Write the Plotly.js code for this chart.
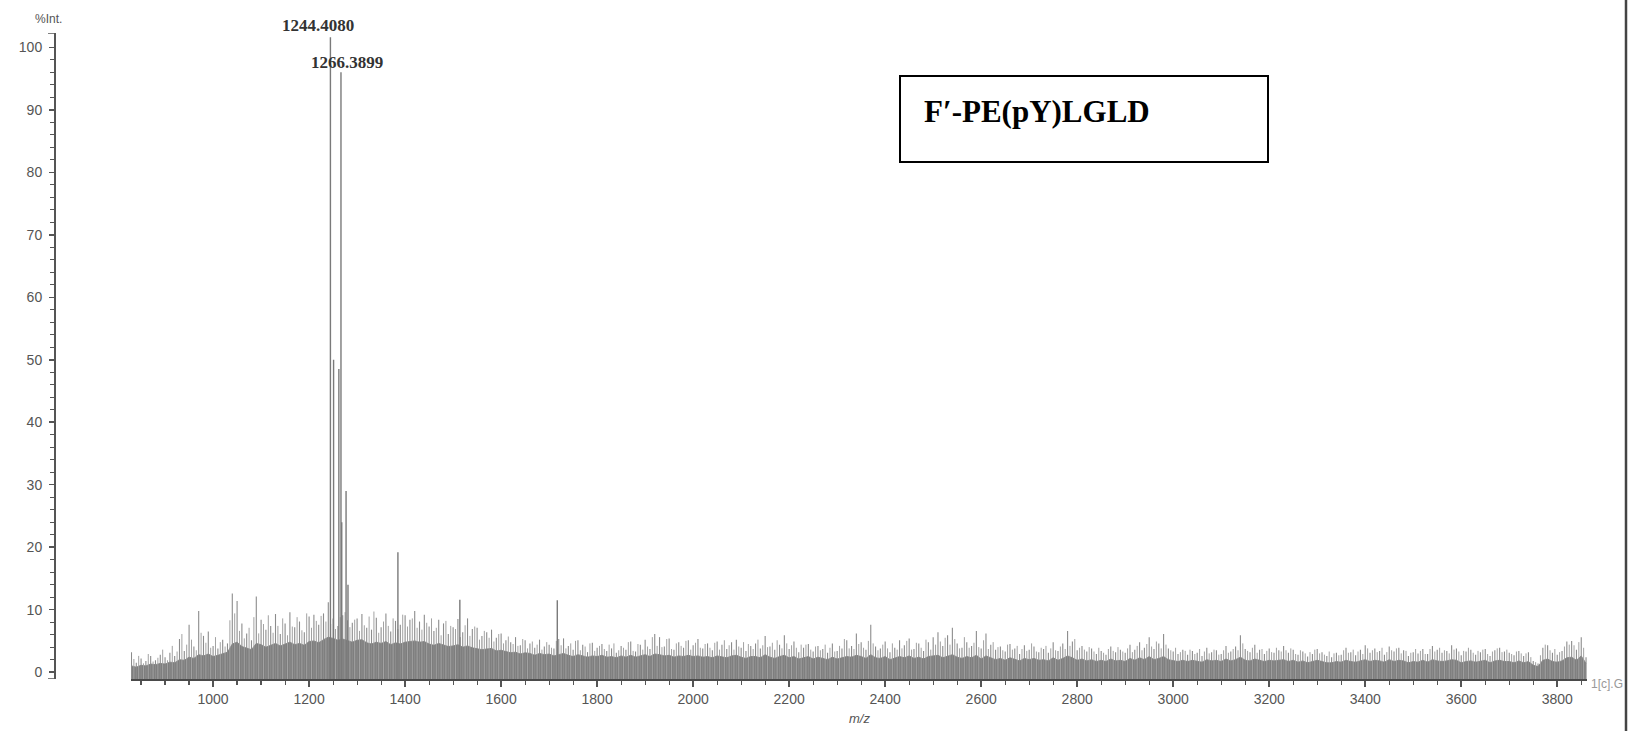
<!DOCTYPE html>
<html>
<head>
<meta charset="utf-8">
<script src="https://cdn.plot.ly/plotly-3.0.1.min.js"></script>
<style>html,body{margin:0;padding:0;background:#fff;}#chart{width:1629px;height:731px;}</style>
</head>
<body>
<div id="chart"></div>
<script>
// ---- data ----
const noiseStart = 830, noiseStep = 10;
const noiseHi = [
 3.2,1.5,2.2,1.8,2.6,1.9,2.8,2.4,3.1,2.6,
 5.3,3.4,7.6,4.1,9.8,5.8,6.5,4.2,3.8,5.2,
 4.6,12.6,11.4,7.8,6.2,5.1,12.1,8.4,6.8,7.4,
 9.3,6.1,7.8,9.6,7.2,8.1,6.4,8.9,9.2,7.6,
 9.4,11.2,8.6,7.4,9.1,8.3,7.9,8.6,9.3,7.1,
 6.8,8.7,7.2,9.4,6.5,8.2,7.6,9.1,8.4,9.8,
 8.1,9.2,7.3,6.6,8.4,7.8,6.1,7.2,8.5,6.4,
 8.6,6.9,7.1,5.8,6.4,6.8,5.5,6.2,5.1,4.8,
 5.6,4.3,5.1,4.6,3.9,5.2,4.1,4.4,3.8,5.3,
 5.4,4.2,3.6,5.1,4.4,3.2,4.7,3.9,4.5,3.4,
 3.8,3.1,4.2,3.6,4.9,3.3,4.4,5.2,3.7,6.1,
 5.6,4.1,5.4,3.6,4.8,3.9,5.1,4.3,5.3,3.8,
 4.6,3.5,4.9,4.4,3.7,4.8,5.2,3.9,3.4,4.2,
 4.6,3.8,5.8,4.1,3.6,4.4,5.9,3.7,4.9,3.2,
 3.9,4.5,3.3,4.2,3.7,3.1,4.6,3.4,3.8,5.1,
 4.2,6.2,4.8,3.6,7.6,4.1,3.8,4.9,3.2,3.9,
 5.1,4.3,5.4,3.7,4.6,3.4,4.8,5.6,6.4,4.2,
 5.9,7.1,4.6,3.9,4.8,4.2,6.6,3.8,6.2,4.4,
 3.6,4.1,3.3,4.5,3.8,2.9,4.3,3.6,4.1,3.2,
 3.7,3.1,4.8,3.4,4.6,6.6,4.9,3.5,4.2,3.3,
 3.8,2.9,3.4,2.8,4.1,3.2,3.6,3.1,4.4,3.6,
 4.8,3.9,5.6,3.7,4.6,6.1,3.8,3.3,2.9,3.6,
 2.8,3.4,3.1,2.6,3.9,3.2,3.5,2.9,4.2,3.3,
 4.1,5.9,3.7,3.2,4.4,3.6,2.9,3.8,3.1,3.5,
 4.2,3.1,3.6,2.8,3.3,2.5,2.9,3.7,3.2,2.6,
 2.4,3.1,2.8,3.9,3.2,2.7,3.6,4.3,3.1,3.8,
 3.4,2.8,4.1,3.3,3.9,3.5,2.6,3.2,3.0,3.7,
 2.9,4.2,3.6,3.1,3.4,4.3,3.8,2.7,3.3,3.6,
 2.8,3.2,3.7,2.6,3.5,3.9,3.3,3.1,2.7,3.4,
 2.6,3.2,1.8,1.4,3.9,4.3,3.1,2.8,3.4,4.9,
 5.0,3.6,5.6,2.4
];
// sticks lying half-way between the ones above (835, 845, ...)
const noiseMid = [
 2.1,2.6,1.4,2.9,1.7,2.3,3.6,1.9,4.2,3.3,
 6.1,4.4,5.2,3.5,6.3,4.7,3.9,5.6,4.8,4.1,
 8.3,9.4,6.6,5.4,7.1,8.8,6.2,7.7,9.1,6.3,
 7.4,8.6,5.9,7.3,8.8,6.7,9.4,7.1,8.2,9.0,
 8.1,7.7,6.9,8.8,9.6,7.2,8.4,6.6,7.5,8.9,
 9.7,6.3,8.1,7.4,8.6,6.9,9.2,7.3,8.6,7.1,
 6.8,7.9,8.6,7.1,5.9,8.2,7.4,6.9,5.6,7.5,
 5.8,7.3,5.2,6.6,5.5,4.9,6.1,4.6,5.7,4.5,
 4.2,5.3,3.8,4.9,4.4,3.6,4.8,3.9,5.0,4.3,
 3.8,4.6,5.0,3.5,4.1,4.6,3.4,4.2,3.7,4.4,
 4.6,3.5,3.9,4.8,3.4,4.5,3.6,4.1,5.6,4.2,
 4.0,5.3,3.7,4.6,4.2,5.0,3.6,4.7,3.9,4.5,
 3.9,4.7,3.6,5.1,4.3,3.6,4.1,4.8,4.5,3.7,
 5.2,4.3,4.0,4.7,5.1,3.8,4.6,4.3,3.9,4.4,
 4.4,3.6,4.1,3.5,4.4,3.9,3.3,4.2,5.3,3.8,
 3.7,4.5,3.9,5.0,4.6,3.5,4.4,3.8,4.6,3.6,
 3.8,5.0,3.6,4.7,3.9,5.2,3.6,4.4,4.9,5.5,
 4.4,5.3,3.8,5.6,3.9,4.7,4.0,5.1,3.7,4.8,
 4.0,3.5,4.4,3.6,4.2,3.7,3.4,4.6,3.3,3.9,
 4.2,3.8,3.5,4.1,3.7,4.2,5.3,3.9,3.6,4.0,
 3.3,3.9,3.1,3.7,3.4,4.0,3.3,3.8,3.2,4.2,
 3.5,4.5,4.1,4.9,3.8,4.4,3.5,3.9,3.2,3.4,
 3.6,2.9,3.7,3.3,3.0,3.6,2.8,3.5,3.1,3.7,
 3.5,4.6,3.4,3.9,3.1,3.7,3.4,3.2,3.9,3.3,
 3.5,3.8,2.9,3.5,3.0,3.2,3.6,3.0,2.8,3.3,
 3.0,2.7,3.5,3.1,3.6,3.3,2.9,3.8,3.5,3.2,
 3.9,3.2,3.5,3.8,3.0,3.4,3.1,3.7,3.4,2.9,
 3.7,3.3,3.9,3.5,3.0,3.6,3.3,3.4,3.9,3.1,
 3.4,3.6,2.9,3.3,3.8,3.2,3.6,2.9,3.3,3.0,
 3.0,2.4,1.6,2.7,4.4,3.5,3.7,3.2,4.1,4.4,
 4.3,4.8,3.9
];
// level of the dense grey mass under the sticks
const noiseLo = [
 1.0,0.8,1.1,1.0,1.3,1.2,1.4,1.3,1.6,1.5,
 2.0,1.9,2.4,2.2,2.8,2.6,2.9,2.5,2.7,3.0,
 3.2,4.5,4.8,4.1,3.8,3.6,4.6,4.4,4.0,4.3,
 4.6,4.2,4.5,4.8,4.4,4.6,4.3,4.9,5.0,4.7,
 5.2,5.6,5.4,5.1,5.3,5.0,4.8,5.1,5.2,4.7,
 4.5,4.8,4.6,4.9,4.4,4.7,4.5,4.8,4.9,5.0,
 4.8,4.9,4.5,4.3,4.6,4.4,4.1,4.2,4.4,4.0,
 4.2,3.9,3.8,3.6,3.7,3.8,3.4,3.5,3.3,3.1,
 3.2,2.9,3.1,3.0,2.7,3.0,2.8,2.9,2.6,2.8,
 3.0,2.7,2.5,2.8,2.6,2.4,2.6,2.5,2.7,2.4,
 2.5,2.3,2.6,2.4,2.7,2.4,2.6,2.8,2.5,2.9,
 2.8,2.6,2.7,2.4,2.6,2.5,2.7,2.5,2.6,2.4,
 2.5,2.3,2.6,2.5,2.3,2.6,2.7,2.4,2.2,2.5,
 2.5,2.3,2.8,2.4,2.2,2.5,2.7,2.3,2.5,2.1,
 2.3,2.5,2.1,2.4,2.2,2.0,2.4,2.1,2.3,2.5,
 2.4,2.7,2.5,2.2,2.8,2.3,2.2,2.5,2.0,2.3,
 2.5,2.3,2.6,2.2,2.4,2.1,2.5,2.6,2.7,2.3,
 2.6,2.8,2.4,2.2,2.5,2.3,2.7,2.1,2.6,2.3,
 2.0,2.2,1.9,2.3,2.1,1.8,2.2,2.0,2.2,1.9,
 2.0,1.8,2.3,1.9,2.2,2.6,2.3,1.9,2.1,1.8,
 2.0,1.7,1.9,1.7,2.1,1.8,1.9,1.7,2.2,1.9,
 2.3,2.0,2.5,2.0,2.2,2.5,2.0,1.8,1.7,1.9,
 1.7,1.9,1.8,1.6,2.0,1.8,1.9,1.7,2.1,1.8,
 2.0,2.4,1.9,1.8,2.1,1.9,1.7,1.9,1.8,1.9,
 2.0,1.7,1.9,1.6,1.8,1.5,1.7,1.9,1.7,1.5,
 1.5,1.7,1.6,1.9,1.7,1.6,1.8,2.0,1.7,1.9,
 1.8,1.6,2.0,1.7,1.9,1.8,1.5,1.7,1.6,1.9,
 1.6,2.0,1.8,1.7,1.8,2.0,1.9,1.5,1.7,1.8,
 1.6,1.7,1.9,1.5,1.8,1.9,1.7,1.7,1.5,1.8,
 1.5,1.7,1.1,0.9,1.9,2.1,1.7,1.6,1.8,2.3,
 2.4,1.9,2.6,1.4
];
const peakMz  = [1244.4080, 1251, 1266.3899, 1262, 1268, 1277, 1281, 1385, 1514, 1717];
const peakInt = [101.6,     50,   96.0,      48.5, 24,   29,   14,   19.2, 11.6, 11.5];
const labelledPeaks = ["1244.4080", "1266.3899"];
const xTickVals = [1000,1200,1400,1600,1800,2000,2200,2400,2600,2800,3000,3200,3400,3600,3800];
const yTickVals = [0,10,20,30,40,50,60,70,80,90,100];
const xRange = [829, 3862];
const yRange = [-1.1, 102.3];

// ---- build traces ----
const noiseMz = noiseHi.map((_, i) => noiseStart + i * noiseStep);
const midMz = noiseMid.map((_, i) => noiseStart + noiseStep / 2 + i * noiseStep);
const sticks = (xs, ys) => {
  const X = [], Y = [];
  xs.forEach((m, i) => { X.push(m, m, null); Y.push(yRange[0], ys[i], null); });
  return [X, Y];
};
const [sx, sy] = sticks(noiseMz, noiseHi);
const [mx, my] = sticks(midMz, noiseMid);
const [px, py] = sticks(peakMz, peakInt);

const traces = [
  {x: [noiseMz[0], noiseMz[noiseMz.length-1]], y: [yRange[0], yRange[0]], mode: 'lines',
   line: {width: 0, color: 'rgba(0,0,0,0)'}, hoverinfo: 'skip', showlegend: false},
  {x: noiseMz, y: noiseLo, mode: 'lines', fill: 'tonexty', fillcolor: '#7e7e7e',
   line: {width: 0.8, color: '#787878'}, hoverinfo: 'skip', showlegend: false},
  {x: mx, y: my, mode: 'lines', line: {width: 1.0, color: '#a2a2a2'}, hoverinfo: 'skip', showlegend: false},
  {x: sx, y: sy, mode: 'lines', line: {width: 1.1, color: '#8c8c8c'}, hoverinfo: 'skip', showlegend: false},
  {x: px, y: py, mode: 'lines', line: {width: 1.4, color: '#7a7a7a'}, hoverinfo: 'skip', showlegend: false}
];

const minorX = []; for (let v = 850; v <= 3850; v += 50) minorX.push(v);
const minorY = []; for (let v = 0; v <= 100; v += 2) minorY.push(v);

const W = 1629, H = 731, mL = 54, mR = 42, mT = 33, mB = 52;
const pw = W - mL - mR, ph = H - mT - mB;
const pxX = p => (p - mL) / pw;          // pixel -> paper x
const pxY = p => (H - mB - p) / ph;      // pixel -> paper y

const tickFont = {family: 'Liberation Sans, Arial, sans-serif', size: 14, color: '#555'};
const serif = 'Liberation Serif, Times New Roman, serif';
const layout = {
  width: W, height: H,
  margin: {l: mL, r: mR, t: mT, b: mB, pad: 0},
  paper_bgcolor: '#fff', plot_bgcolor: '#fff',
  showlegend: false, hovermode: false,
  xaxis: {domain: [pxX(131), 1], range: xRange, tickmode: 'array', tickvals: xTickVals,
    ticks: 'outside', ticklen: 6, tickwidth: 1.5, tickcolor: '#555',
    minor: {tickmode: 'array', tickvals: minorX, ticks: 'outside', ticklen: 4, tickwidth: 1.2, tickcolor: '#555', showgrid: false},
    showline: true, linecolor: '#4a4a4a', linewidth: 2, showgrid: false, zeroline: false,
    tickfont: tickFont, ticklabelstandoff: 0},
  yaxis: {anchor: 'free', position: 0, range: yRange, tickmode: 'array', tickvals: yTickVals,
    ticks: 'outside', ticklen: 5, tickwidth: 1.5, tickcolor: '#555',
    minor: {tickmode: 'array', tickvals: minorY, ticks: 'outside', ticklen: 4, tickwidth: 1.2, tickcolor: '#555', showgrid: false},
    showline: true, linecolor: '#555', linewidth: 1.5, showgrid: false, zeroline: false,
    tickfont: tickFont, ticklabelstandoff: 4},
  shapes: [
    {type: 'line', xref: 'paper', yref: 'y', xsizemode: 'pixel', xanchor: 0, x0: -6, x1: 0, y0: yRange[1], y1: yRange[1], line: {color: '#555', width: 1.5}},
    {type: 'line', xref: 'paper', yref: 'y', xsizemode: 'pixel', xanchor: 0, x0: -6, x1: 0, y0: yRange[0], y1: yRange[0], line: {color: '#555', width: 1.5}},
    {type: 'rect', xref: 'paper', yref: 'paper', x0: pxX(900), x1: pxX(1268), y0: pxY(162), y1: pxY(76), line: {color: '#000', width: 2}},
    {type: 'line', xref: 'paper', yref: 'paper', x0: pxX(1626), x1: pxX(1626), y0: pxY(731), y1: pxY(0), line: {color: '#444', width: 2.5}}
  ],
  annotations: [
    {xref: 'x', yref: 'paper', x: peakMz[0], y: pxY(25), yanchor: 'middle', xshift: -12, text: labelledPeaks[0], showarrow: false,
     font: {family: serif, size: 17, weight: 'bold', color: '#333'}},
    {xref: 'x', yref: 'paper', x: peakMz[2], y: pxY(63), yanchor: 'middle', xshift: 6, text: labelledPeaks[1], showarrow: false,
     font: {family: serif, size: 17, weight: 'bold', color: '#333'}},
    {xref: 'paper', yref: 'paper', x: pxX(922), y: pxY(112), xanchor: 'left', yanchor: 'middle',
     text: 'F′-PE(pY)LGLD', showarrow: false,
     font: {family: serif, size: 31, weight: 'bold', color: '#000'}},
    {xref: 'paper', yref: 'paper', x: pxX(33), y: pxY(19), yanchor: 'middle', text: '%Int.', showarrow: false,
     font: {family: 'Liberation Sans, Arial, sans-serif', size: 12, color: '#555'}},
    {xref: 'paper', yref: 'paper', x: pxX(859), y: pxY(718), yanchor: 'middle', text: 'm/z', showarrow: false,
     font: {family: 'Liberation Sans, Arial, sans-serif', size: 13, style: 'italic', color: '#555'}},
    {xref: 'paper', yref: 'paper', x: pxX(1589), y: pxY(684), xanchor: 'left', yanchor: 'middle', text: '1[c].G', showarrow: false,
     font: {family: 'Liberation Sans, Arial, sans-serif', size: 12, color: '#999'}}
  ]
};

Plotly.newPlot('chart', traces, layout, {staticPlot: true, displayModeBar: false});
</script>
</body>
</html>
